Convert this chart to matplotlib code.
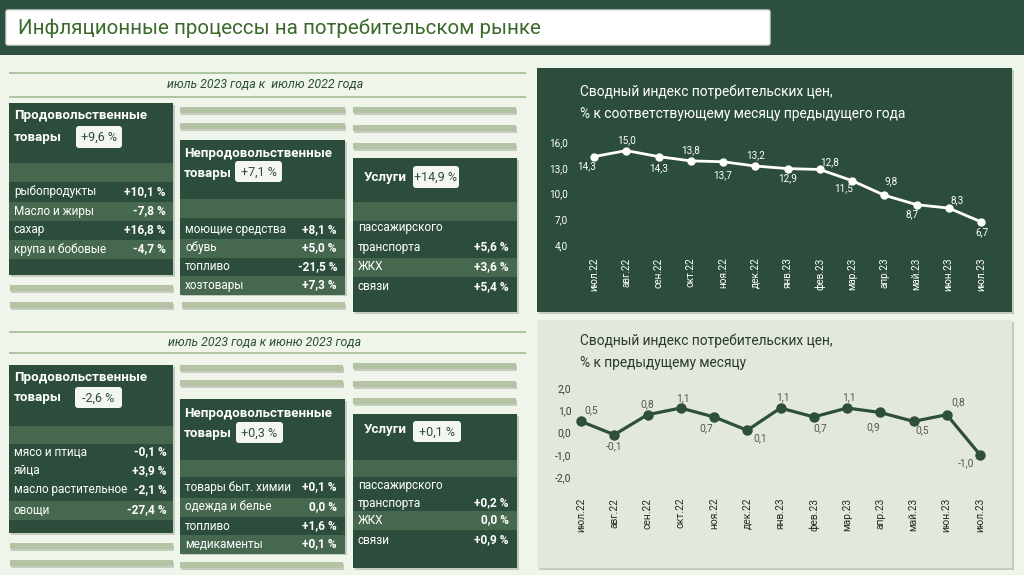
import matplotlib.pyplot as plt
from matplotlib.patches import Rectangle, FancyBboxPatch

plt.rcParams['font.family'] = ['Roboto', 'DejaVu Sans']

# ---- data ----
months = ["июл.22", "авг.22", "сен.22", "окт.22", "ноя.22", "дек.22", "янв.23",
          "фев.23", "мар.23", "апр.23", "май.23", "июн.23", "июл.23"]
cpi_yoy = [14.3, 15.0, 14.3, 13.8, 13.7, 13.2, 12.9, 12.8, 11.5, 9.8, 8.7, 8.3, 6.7]
cpi_mom = [0.5, -0.1, 0.8, 1.1, 0.7, 0.1, 1.1, 0.7, 1.1, 0.9, 0.5, 0.8, -1.0]

page_title = "Инфляционные процессы на потребительском рынке"
period_yoy = "июль 2023 года к  июлю 2022 года"
period_mom = "июль 2023 года к июню 2023 года"
chart_yoy_title = "Сводный индекс потребительских цен,\n% к соответствующему месяцу предыдущего года"
chart_mom_title = "Сводный индекс потребительских цен,\n% к предыдущему месяцу"

group_titles = [["Продовольственные", "товары"], ["Непродовольственные", "товары"], ["Услуги"]]
group_total_yoy = [9.6, 7.1, 14.9]
group_total_mom = [-2.6, 0.3, 0.1]

food_items_yoy = ["рыбопродукты", "Масло и жиры", "сахар", "крупа и бобовые"]
food_values_yoy = [10.1, -7.8, 16.8, -4.7]
nonfood_items_yoy = ["моющие средства", "обувь", "топливо", "хозтовары"]
nonfood_values_yoy = [8.1, 5.0, -21.5, 7.3]
services_items_yoy = ["пассажирского\nтранспорта", "ЖКХ", "связи"]
services_values_yoy = [5.6, 3.6, 5.4]

food_items_mom = ["мясо и птица", "яйца", "масло растительное", "овощи"]
food_values_mom = [-0.1, 3.9, -2.1, -27.4]
nonfood_items_mom = ["товары быт. химии", "одежда и белье", "топливо", "медикаменты"]
nonfood_values_mom = [0.1, 0.0, 1.6, 0.1]
services_items_mom = ["пассажирского\nтранспорта", "ЖКХ", "связи"]
services_values_mom = [0.2, 0.0, 0.9]

# ---- colours ----
BG = "#f0f5ec"
DARK = "#2c4d3b"
BAND = "#46684f"
GREYBAR = "#b3c3a3"
LINE = "#a9bf9c"
LIGHTPANEL = "#e2e9dc"


def fmt(v):
    if v == 0:
        return "0,0 %"
    return f"{v:+.1f}".replace(".", ",") + " %"


def fmt_label(v):
    return f"{v:.1f}".replace(".", ",")


W, H = 1024, 575
fig = plt.figure(figsize=(W / 100, H / 100), dpi=100, facecolor=BG)
ax = fig.add_axes([0, 0, 1, 1])
ax.set_xlim(0, W)
ax.set_ylim(H, 0)
ax.axis("off")


def rect(x0, y0, x1, y1, color, z=1, shadow=False):
    if shadow:
        ax.add_patch(Rectangle((x0 + 2, y0 + 2), x1 - x0, y1 - y0, color="#9aa596", alpha=0.5, zorder=z - 0.1, lw=0))
    ax.add_patch(Rectangle((x0, y0), x1 - x0, y1 - y0, color=color, zorder=z, lw=0))


# header
rect(0, 0, W, 55, "#2d4f3f")
ax.add_patch(FancyBboxPatch((6, 10), 764, 35, boxstyle="round,pad=0,rounding_size=2",
                            fc="white", ec="#d6ddd2", lw=1, zorder=2))
ax.text(18, 28, page_title, fontsize=14.8, color="#3b6a2c", va="center", ha="left", zorder=3)

# section separators
for y_top, y_bot, txt in [(73, 97, period_yoy), (332, 353, period_mom)]:
    ax.plot([10, 525], [y_top, y_top], color=LINE, lw=1.3)
    ax.plot([10, 525], [y_bot, y_bot], color=LINE, lw=1.3)
    ax.text(265, (y_top + y_bot) / 2, txt, fontsize=8.9, style="italic", color=DARK,
            ha="center", va="center")

# decorative grey bars
grey_bars = [(180, 107, 345), (180, 123, 345), (353, 107, 516), (353, 125, 516), (353, 143, 516),
             (10, 285, 173), (10, 302, 173), (182, 302, 345),
             (180, 365, 343), (180, 380, 343), (353, 363, 516), (353, 381, 516), (353, 398, 516),
             (10, 543, 173), (10, 560, 173), (180, 562, 343)]
for x0, y0, x1 in grey_bars:
    ax.add_patch(Rectangle((x0 + 1, y0 + 1.5), x1 - x0, 6, color="#8e9a88", alpha=0.45, lw=0, zorder=1))
    ax.add_patch(Rectangle((x0, y0), x1 - x0, 6, color=GREYBAR, lw=0, zorder=1.1))


def draw_panel(box, title, title_ys, badge, total, band, items, values, row_ys, light_rows, val_x):
    x0, y0, x1, y1 = box
    rect(x0, y0, x1, y1, DARK, z=2, shadow=True)
    rect(x0, band[0], x1, band[1], BAND, z=2.1)
    for i in light_rows:
        rect(x0, row_ys[i][-1] - 9.5, x1, row_ys[i][-1] + 9.5, BAND, z=2.1)
    for (tx, ty), line in zip(title_ys, title):
        ax.text(tx, ty, line, fontsize=9.6, fontweight="bold", color="white",
                ha="left", va="center", zorder=3)
    bx0, by0, bx1, by1 = badge
    ax.add_patch(FancyBboxPatch((bx0, by0), bx1 - bx0, by1 - by0,
                                boxstyle="round,pad=0,rounding_size=3",
                                fc="#f4f7f1", ec="none", zorder=3))
    ax.text((bx0 + bx1) / 2, (by0 + by1) / 2 + 0.5, fmt(total), fontsize=9, color=DARK,
            ha="center", va="center", zorder=4)
    for label, v, ys in zip(items, values, row_ys):
        for yy, part in zip(ys, label.split("\n")):
            ax.text(x0 + 5, yy, part, fontsize=8.5, color="white", ha="left", va="center", zorder=3)
        ax.text(val_x, ys[-1], fmt(v), fontsize=8.6, fontweight="bold", color="white",
                ha="right", va="center", zorder=3)


# upper block (year on year)
draw_panel((9, 103, 173, 275), group_titles[0], [(14, 116), (14, 137)], (76, 126, 122, 148),
           group_total_yoy[0], (163, 182), food_items_yoy, food_values_yoy,
           [(192,), (211,), (230,), (249,)], [1, 3], 166)
draw_panel((180, 140, 345, 294), group_titles[1], [(184, 153), (184, 173)], (235, 161, 282, 182),
           group_total_yoy[1], (199, 218), nonfood_items_yoy, nonfood_values_yoy,
           [(230,), (248,), (267,), (285,)], [1, 3], 337)
draw_panel((353, 158, 517, 312), group_titles[2], [(364, 177)], (413, 166, 459, 188),
           group_total_yoy[2], (202, 221), services_items_yoy, services_values_yoy,
           [(228, 247), (267,), (287,)], [1], 509)

# lower block (month on month)
draw_panel((9, 365, 173, 533), group_titles[0], [(14, 378), (14, 398)], (75, 387, 122, 408),
           group_total_mom[0], (426, 444), food_items_mom, food_values_mom,
           [(452,), (471,), (490,), (510,)], [3], 167)
draw_panel((180, 399, 345, 553), group_titles[1], [(184, 413), (184, 433)], (236, 422, 283, 443),
           group_total_mom[1], (460, 477), nonfood_items_mom, nonfood_values_mom,
           [(487,), (507,), (526,), (544,)], [1, 3], 337)
draw_panel((353, 414, 517, 568), group_titles[2], [(364, 430)], (413, 421, 461, 442),
           group_total_mom[2], (460, 477), services_items_mom, services_values_mom,
           [(485, 503), (520,), (540,)], [1], 509)

# chart panels
rect(537, 68, 1012, 312, DARK, z=0.5, shadow=True)
rect(537, 320, 1012, 568, LIGHTPANEL, z=0.5, shadow=True)
ax.text(580, 103, chart_yoy_title, fontsize=9.9, color="white", ha="left", va="center",
        linespacing=1.7)
ax.text(580, 352, chart_mom_title, fontsize=9.9, color="#2b3a2f", ha="left", va="center",
        linespacing=1.7)


def fig_box(l, r, top, bottom):
    return [l / W, 1 - bottom / H, (r - l) / W, (bottom - top) / H]


x = list(range(len(months)))

# chart 1: year on year
a1 = fig.add_axes(fig_box(594, 981, 142, 245))
a1.set_facecolor("none")
a1.plot(x, cpi_yoy, color="white", lw=2, marker="o", ms=5, clip_on=False)
a1.set_xlim(0, 12)
a1.set_ylim(4, 16)
a1.set_yticks([4, 7, 10, 13, 16])
a1.set_yticklabels([fmt_label(v) for v in [4, 7, 10, 13, 16]], color="white", fontsize=7.2)
a1.set_xticks(x)
a1.set_xticklabels(months, rotation=90, color="white", fontsize=7.2, va="top")
a1.tick_params(length=0, axis="y", pad=19)
a1.tick_params(length=0, axis="x", pad=9)
for s in a1.spines.values():
    s.set_visible(False)
yoy_offsets = [(-7, -10), (0, 10), (0, -12), (0, 11), (0, -13), (0, 11), (0, -10),
               (10, 7), (-8, -8), (7, 14), (-4, -10), (8, 8), (1, -10)]
for xi, v, (dx, dy) in zip(x, cpi_yoy, yoy_offsets):
    a1.annotate(fmt_label(v), (xi, v), xytext=(dx * 0.72, dy * 0.72), textcoords="offset points",
                ha="center", va="center", color="white", fontsize=7.2, annotation_clip=False)

# chart 2: month on month
a2 = fig.add_axes(fig_box(581, 980, 388, 477))
a2.set_facecolor("none")
a2.plot(x, cpi_mom, color="#2e4f3b", lw=2.3, marker="o", ms=6.5, clip_on=False)
a2.set_xlim(0, 12)
a2.set_ylim(-2, 2)
a2.set_yticks([-2, -1, 0, 1, 2])
a2.set_yticklabels([fmt_label(v) for v in [-2, -1, 0, 1, 2]], color="#3a3a3a", fontsize=7.4)
a2.set_xticks(x)
a2.set_xticklabels(months, rotation=90, color="#2b2b2b", fontsize=7.4, va="top")
a2.tick_params(length=0, axis="y", pad=7)
a2.tick_params(length=0, axis="x", pad=15)
for s in a2.spines.values():
    s.set_visible(False)
mom_offsets = [(10, 11), (0, -11), (0, 10), (2, 10), (-8, -11), (13, -8), (2, 11),
               (6, -11), (2, 11), (-7, -15), (9, -9), (11, 12), (-14, -8)]
for xi, v, (dx, dy) in zip(x, cpi_mom, mom_offsets):
    a2.annotate(fmt_label(v), (xi, v), xytext=(dx * 0.72, dy * 0.72), textcoords="offset points",
                ha="center", va="center", color="#555555", fontsize=7.4, annotation_clip=False)

fig.savefig("out.png", dpi=100, facecolor=BG)
